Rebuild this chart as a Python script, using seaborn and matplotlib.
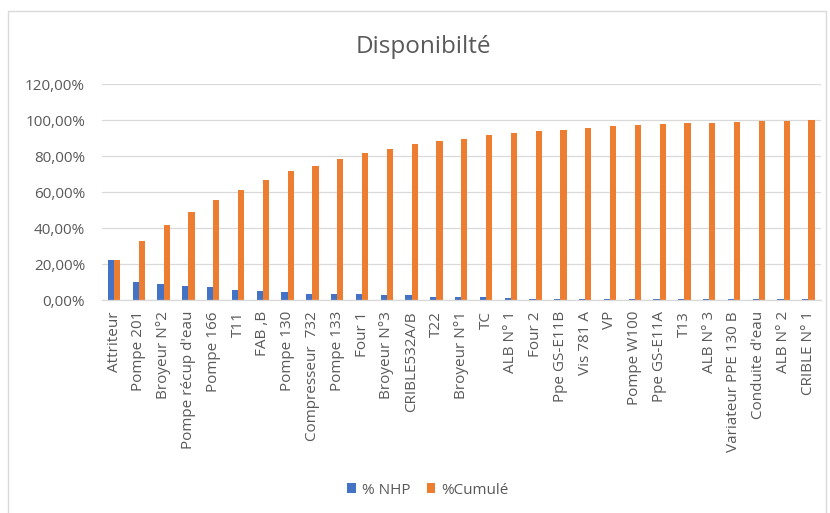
import matplotlib
matplotlib.use("Agg")
import matplotlib.pyplot as plt
import seaborn as sns
import pandas as pd
from matplotlib.ticker import FuncFormatter, FixedLocator
from matplotlib.patches import Rectangle

# ---- data ----
categories = [
    "Attriteur", "Pompe 201", "Broyeur N°2", "Pompe récup d'eau", "Pompe 166",
    "T11", "FAB ,B", "Pompe 130", "Compresseur  732", "Pompe 133", "Four 1",
    "Broyeur N°3", "CRIBLE532A/B", "T22", "Broyeur N°1", "TC", "ALB N° 1",
    "Four 2", "Ppe GS-E11B", "Vis 781 A", "VP", "Pompe W100", "Ppe GS-E11A",
    "T13", "ALB N° 3", "Variateur PPE 130 B", "Conduite d'eau", "ALB N° 2",
    "CRIBLE N° 1",
]
nhp = [22.5, 9.8, 8.9, 7.6, 7.0, 5.8, 5.2, 4.6, 3.4, 3.3, 3.2, 2.8, 2.7,
       1.6, 1.5, 1.4, 1.3, 0.7, 0.7, 0.7, 0.7, 0.7, 0.7, 0.7, 0.7, 0.7,
       0.7, 0.7, 0.7]
cumul = [22.5, 32.6, 41.5, 48.7, 55.7, 61.3, 66.5, 71.5, 74.4, 78.2, 81.5,
         83.9, 86.5, 88.2, 89.4, 91.5, 92.6, 93.9, 94.4, 95.7, 96.5, 97.0,
         97.6, 98.1, 98.4, 98.9, 99.3, 99.6, 100.0]
series_names = ["% NHP", "%Cumulé"]
y_ticks = [0, 20, 40, 60, 80, 100, 120]
title = "Disponibilté"

n = len(categories)
df = pd.DataFrame({
    "Equipement": categories * 2,
    "Série": [series_names[0]] * n + [series_names[1]] * n,
    "Valeur": nhp + cumul,
})

sns.set_theme(style="white")
plt.rcParams['font.family'] = ['Open Sans', 'DejaVu Sans']

TXT = "#595959"
GRID = "#d9d9d9"
W, H = 830, 513

fig = plt.figure(figsize=(W / 100, H / 100), dpi=100)
ax = fig.add_axes([101.7 / W, 1 - 300 / H, 719 / W, 216 / H])

sns.barplot(data=df, x="Equipement", y="Valeur", hue="Série",
            palette=["#4472C4", "#ED7D31"], saturation=1, width=0.5,
            linewidth=0, ax=ax, errorbar=None)

ax.set_xlim(-0.5, n - 0.5)
ax.set_ylim(0, 120)
ax.yaxis.set_major_locator(FixedLocator(y_ticks))
ax.yaxis.set_major_formatter(FuncFormatter(lambda v, p: f"{v:.2f}%".replace(".", ",")))
ax.set_xlabel("")
ax.set_ylabel("")
ax.grid(axis="y", color=GRID, linewidth=0.9)
ax.set_axisbelow(True)
for s in ["top", "right", "left"]:
    ax.spines[s].set_visible(False)
ax.spines["bottom"].set_color(GRID)
ax.spines["bottom"].set_linewidth(0.9)
ax.tick_params(axis="y", length=0, pad=12, labelsize=11, labelcolor=TXT)
ax.tick_params(axis="x", length=0, pad=8, labelsize=11, labelcolor=TXT)
plt.setp(ax.get_xticklabels(), rotation=90, ha="center", va="top")

handles, labels = ax.get_legend_handles_labels()
ax.get_legend().remove()
fig.legend(handles, labels, loc="center", bbox_to_anchor=(428 / W, 1 - 490 / H),
           ncol=2, frameon=False, fontsize=11, labelcolor=TXT,
           handlelength=0.55, handleheight=0.55, handletextpad=0.4,
           columnspacing=1.1)

fig.text(423 / W, 1 - 53 / H, title, ha="center", va="baseline",
         fontsize=17.5, color=TXT)

fig.add_artist(Rectangle((8 / W, -0.02), (826 - 8) / W, (1 - 11 / H) + 0.02,
                         transform=fig.transFigure, fill=False,
                         edgecolor=GRID, linewidth=1))

fig.savefig("out.png", dpi=100, facecolor="white")
